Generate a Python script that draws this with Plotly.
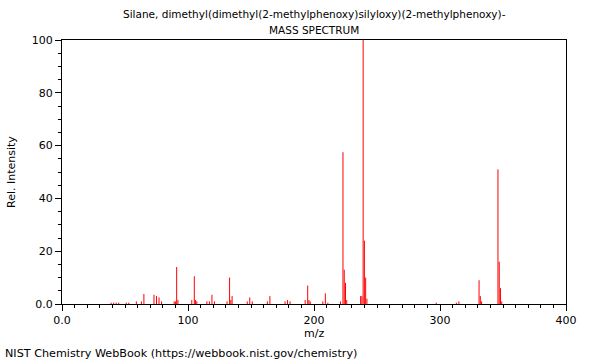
import plotly.graph_objects as go

mz = [39, 41, 43, 45, 51, 53, 59, 63, 65, 73, 75, 77, 79, 89, 90, 91, 92,
      103, 105, 106, 107, 115, 117, 119, 121, 131, 133, 134, 135, 147, 149, 151,
      163, 165, 177, 179, 181, 193, 195, 196, 197, 207, 209, 211, 221, 223, 224,
      225, 226, 237, 238, 239, 240, 241, 242, 297, 313, 315, 331, 332, 333,
      346, 347, 348, 349]
intensity = [0.5, 0.5, 0.5, 0.5, 0.5, 0.5, 1.0, 1.0, 3.8, 3.5, 3.0, 2.5, 1.0, 1.0, 1.0, 14.0, 1.5,
             1.5, 10.5, 1.5, 1.0, 1.0, 1.0, 3.5, 1.0, 1.0, 10.0, 1.5, 3.0, 1.0, 2.5, 1.0,
             1.0, 3.0, 1.0, 1.5, 1.0, 1.5, 7.0, 1.5, 1.0, 1.0, 4.0, 0.5, 1.0, 57.5, 13.0,
             8.0, 1.5, 3.0, 3.0, 100.0, 24.0, 10.0, 2.0, 0.5, 0.5, 1.0, 9.0, 3.0, 1.0,
             51.0, 16.0, 6.0, 1.0]

title_line1 = "Silane, dimethyl(dimethyl(2-methylphenoxy)silyloxy)(2-methylphenoxy)-"
title_line2 = "MASS SPECTRUM"
footer = "NIST Chemistry WebBook (https://webbook.nist.gov/chemistry)"
x_title = "m/z"
y_title = "Rel. Intensity"

x_ticks = [0, 100, 200, 300, 400]
x_labels = ["0.0", "100", "200", "300", "400"]
y_ticks = [0, 20, 40, 60, 80, 100]
y_labels = ["0.0", "20", "40", "60", "80", "100"]

xs, ys = [], []
for m, v in zip(mz, intensity):
    xs += [m, m, None]
    ys += [0, v, None]

fig = go.Figure()
fig.add_trace(go.Scatter(x=xs, y=ys, mode="lines",
                         line=dict(color="#ff0000", width=1),
                         hoverinfo="skip", showlegend=False))

font = dict(family="DejaVu Sans", size=11, color="#000000")
title_font = dict(family="DejaVu Sans", size=10.5, color="#000000")
footer_font = dict(family="DejaVu Sans", size=11.2, color="#000000")

fig.update_layout(
    width=600, height=360,
    margin=dict(l=62, r=34, t=40, b=56),
    paper_bgcolor="white", plot_bgcolor="white",
    font=font,
    showlegend=False,
    xaxis=dict(range=[0, 400], tickvals=x_ticks, ticktext=x_labels,
               ticks="outside", ticklen=6, tickcolor="#000", tickwidth=1,
               showline=True, linecolor="#000", linewidth=1, mirror=True,
               showgrid=False, zeroline=False, automargin=False,
               minor=dict(dtick=10, ticks="outside", ticklen=3, tickcolor="#000"),
               tickfont=font),
    yaxis=dict(range=[0, 100], tickvals=y_ticks, ticktext=y_labels,
               ticks="outside", ticklen=6, tickcolor="#000", tickwidth=1,
               showline=True, linecolor="#000", linewidth=1, mirror=True,
               showgrid=False, zeroline=False, automargin=False,
               minor=dict(dtick=5, ticks="outside", ticklen=3, tickcolor="#000"),
               tickfont=font),
    annotations=[
        dict(text=title_line1, xref="paper", yref="paper", x=0.5, y=1,
             yshift=26, xanchor="center", yanchor="middle", showarrow=False, font=title_font),
        dict(text=title_line2, xref="paper", yref="paper", x=0.5, y=1,
             yshift=10, xanchor="center", yanchor="middle", showarrow=False, font=title_font),
        dict(text=x_title, xref="paper", yref="paper", x=0.5, y=(304 - 333) / 264,
             xanchor="center", yanchor="middle", showarrow=False, font=font),
        dict(text=y_title, xref="paper", yref="paper", x=(11 - 62) / 504, y=0.5,
             xanchor="center", yanchor="middle", textangle=-90, showarrow=False, font=font),
        dict(text=footer, xref="paper", yref="paper", x=(3 - 62) / 504,
             y=(304 - 353) / 264, xanchor="left", yanchor="middle",
             showarrow=False, font=footer_font),
    ],
)

fig.write_html("out.html")
